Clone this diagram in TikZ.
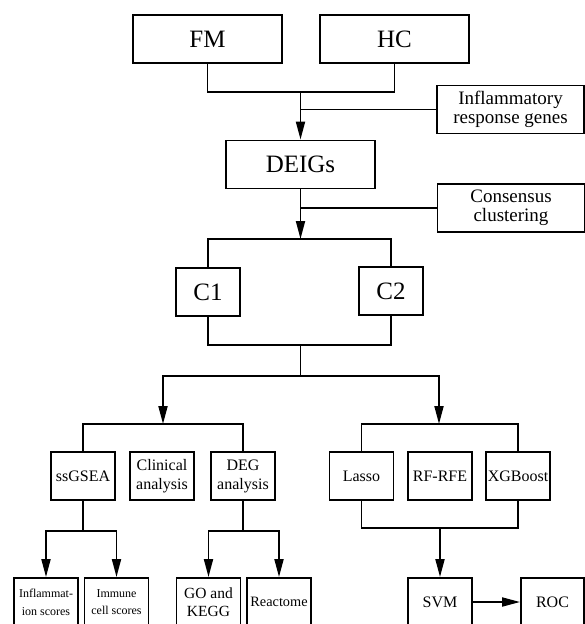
\documentclass[tikz,border=0pt]{standalone}
\usepackage{fontspec}
\setmainfont{Liberation Serif}
\usetikzlibrary{arrows.meta,positioning}
\tikzset{>={Triangle[length=18pt,width=9pt]},
	mainbox/.style={draw, line width=1.9pt, inner sep=0pt, align=center,
		minimum width=149pt, minimum height=48pt, font=\fontsize{25}{30}\selectfont},
	notebox/.style={mainbox, minimum width=147pt, font=\fontsize{19}{18.5}\selectfont},
	twigbox/.style={mainbox, minimum width=64pt, font=\fontsize{16}{19}\selectfont},
	leafbox/.style={twigbox, font=\fontsize{12}{17.7}\selectfont}}

\begin{document}
\begin{tikzpicture}[x=1pt, y=-1pt, line width=1.9pt]
	\useasboundingbox (0,0) rectangle (585,624);
	\clip (0,0) rectangle (585,624);
	% top part
	\node[mainbox] (fm) at (207.5,39) {FM};
	\node[mainbox] (hc) at (394.5,39) {HC};
	\node[notebox] (irg) at (510.5,109.5) {Inflammatory\\response genes};
	\node[mainbox] (deigs) at (300.5,164.5) {DEIGs};
	\node[notebox] (cc) at (511,208) {Consensus\\clustering};
	\node[twigbox, font=\fontsize{25}{30}\selectfont] (c1) at (208,292) {C1};
	\node[twigbox, font=\fontsize{25}{30}\selectfont] (c2) at (391,291) {C2};
	% middle row
	\node[twigbox] (ssgsea) at (83,476) {ssGSEA};
	\node[twigbox] (clin) at (162,476) {Clinical\\analysis};
	\node[twigbox] (deg) at (243,476) {DEG\\analysis};
	\node[twigbox] (lasso) at (361.5,476) {Lasso};
	\node[twigbox] (rfrfe) at (440,476) {RF-RFE};
	\node[twigbox] (xgb) at (518,476) {XGBoost};
	% bottom row
	\node[leafbox] (infl) at (46,602) {Inflammat-\\ion scores};
	\node[leafbox] (imm) at (116.5,602) {Immune\\cell scores};
	\node[twigbox, font=\fontsize{15.5}{18}\selectfont] (go) at (208.5,602) {GO and\\KEGG};
	\node[twigbox, font=\fontsize{14.3}{18}\selectfont] (react) at (279,602) {Reactome};
	\node[twigbox] (svm) at (440,602) {SVM};
	\node[twigbox, minimum width=63pt] (roc) at (552.5,602) {ROC};
	% joints
	\coordinate (j1) at (300.5,92);
	\coordinate (j2) at (300.5,239);
	\coordinate (j3) at (300.5,345);
	\coordinate (j4) at (300.5,376);
	\coordinate (bl) at (163,424);
	\coordinate (br) at (439,424);
	\coordinate (j5) at (83,531);
	\coordinate (j6) at (243,531);
	\coordinate (j7) at (440,528);
	% connectors
	\draw (fm.south) |- (j1) -| (hc.south);
	\draw[->] (j1) -- (deigs.north);
	\draw (irg.west) -- (irg.west -| j1);
	\draw[->] (deigs.south) -- (j2);
	\draw (cc.west) -- (cc.west -| j2);
	\draw (c1.north) |- (j2) -| (c2.north);
	\draw (c1.south) |- (j3) -| (c2.south);
	\draw (j3) -- (j4);
	\draw[->] (j4) -| (bl);
	\draw[->] (j4) -| (br);
	\draw (ssgsea.north) |- (bl) -| (deg.north);
	\draw (lasso.north) |- (br) -| (xgb.north);
	\draw (ssgsea.south) -- (j5);
	\draw[->] (j5) -| (infl.north);
	\draw[->] (j5) -| (imm.north);
	\draw (deg.south) -- (j6);
	\draw[->] (j6) -| (go.north);
	\draw[->] (j6) -| (react.north);
	\draw (lasso.south) |- (j7) -| (xgb.south);
	\draw[->] (j7) -- (svm.north);
	\draw[->] (svm) -- (roc);
\end{tikzpicture}
\end{document}
